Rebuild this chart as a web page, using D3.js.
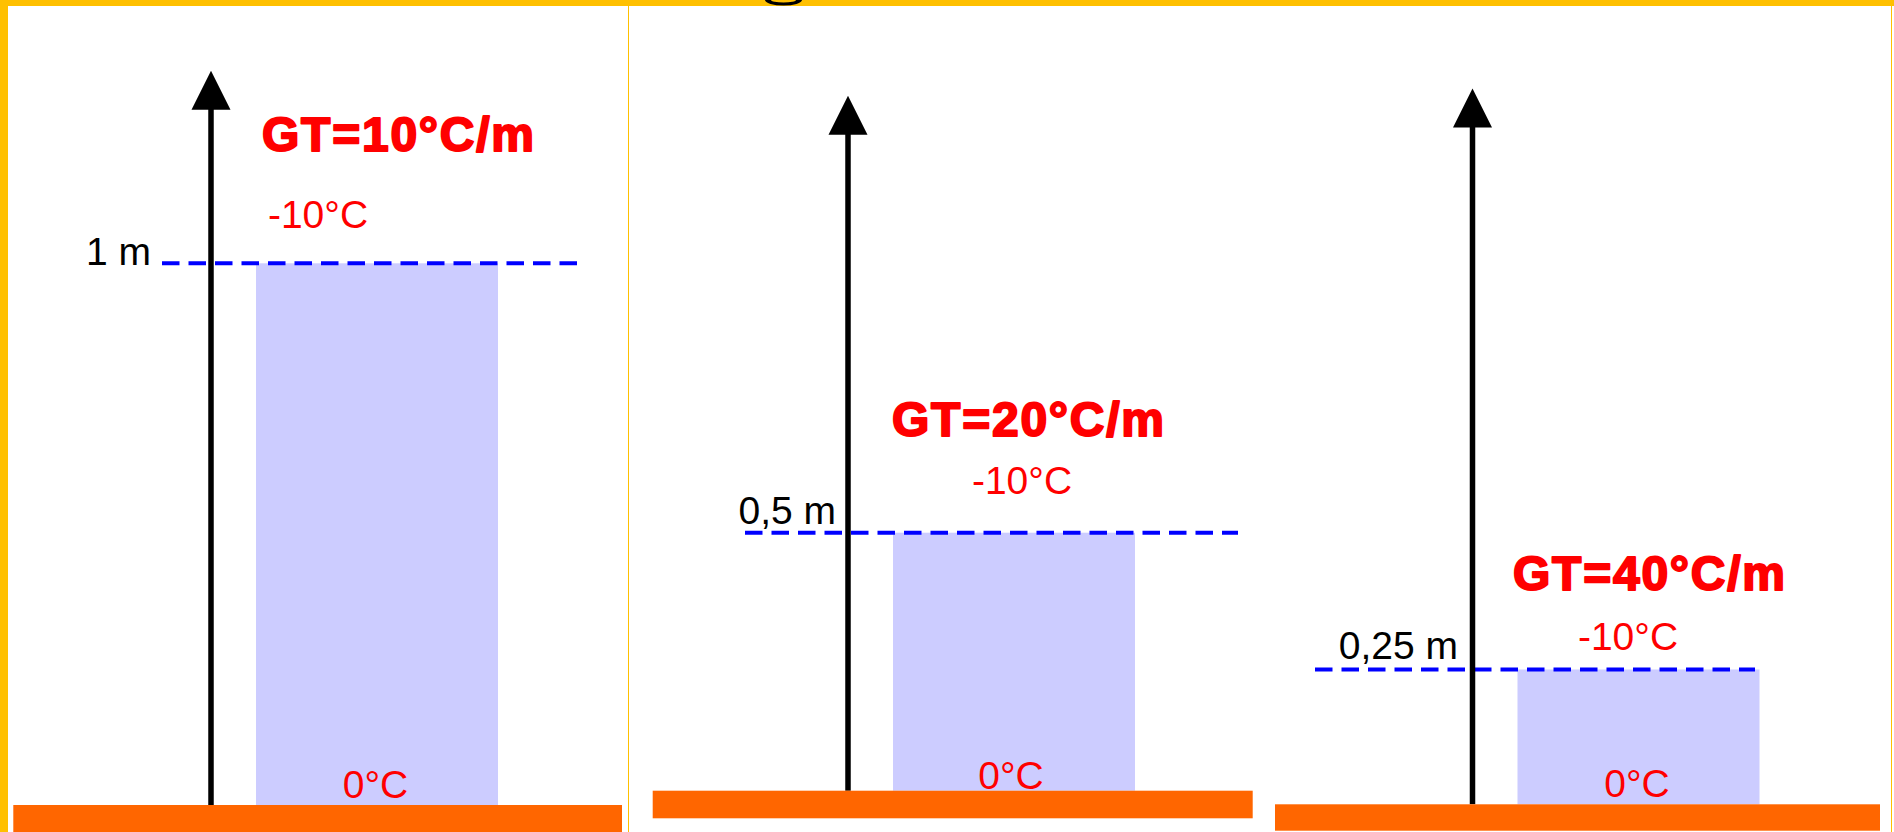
<!DOCTYPE html>
<html>
<head>
<meta charset="utf-8">
<script src="https://cdn.jsdelivr.net/npm/d3@7/dist/d3.min.js"></script>
<style>
  html, body { margin: 0; padding: 0; background: #ffffff; overflow: hidden; }
  svg { display: block; }
</style>
</head>
<body>
<svg id="chart" width="1894" height="832"></svg>
<script>
// ---- data ----
const gradients   = [10, 20, 40];                 // GT in °C/m
const depths      = [1, 0.5, 0.25];               // depth (m) where -10°C is reached
const depthLabels = ["1 m", "0,5 m", "0,25 m"];
const topTemps    = [-10, -10, -10];              // °C at the dashed line
const bottomTemps = [0, 0, 0];                    // °C at the ground

// ---- layout (positions only) ----
const layout = [
  { axisX: 211,    base: 805,   pxPerM: 541.7, tipY: 70.7, dash: [162, 577.5], ground: [13.3, 622, 28],
    gtX: 398,  gtDy: -112.6, topX: 318,  topDy: -35.6, botX: 375.5, botY: 798, lblX: 151,  lblDy: 1.7 },
  { axisX: 848,    base: 790.7, pxPerM: 516,   tipY: 95.7, dash: [745, 1238],  ground: [652.7, 1252.7, 27.6],
    gtX: 1028, gtDy: -96.7,  topX: 1022, topDy: -38.7, botX: 1011,  botY: 789, lblX: 836,  lblDy: -8.7 },
  { axisX: 1472.5, base: 804.3, pxPerM: 539.2, tipY: 88.5, dash: [1315, 1755], ground: [1275, 1880, 26.4],
    gtX: 1649, gtDy: -79.3,  topX: 1628, topDy: -19.3, botX: 1637,  botY: 797, lblX: 1458, lblDy: -10.3 }
];

const C = {
  yellow: "#FFC000", orange: "#FF6600", block: "#CCCCFF",
  dash: "#0000FF", red: "#FF0000", black: "#000000"
};
const FONT = "'Liberation Sans', Arial, sans-serif";

const svg = d3.select("#chart");

svg.append("rect").attr("width", 1894).attr("height", 832).attr("fill", "#fff");

const panels = gradients.map((g, i) => ({
  gt: g, depth: depths[i], label: depthLabels[i],
  top: topTemps[i], bottom: bottomTemps[i], L: layout[i]
}));

panels.forEach(p => {
  const L = p.L;
  const y = d3.scaleLinear().domain([0, 1]).range([L.base, L.base - L.pxPerM]);
  const x = d3.scaleLinear().domain([0, 1]).range([L.axisX, L.axisX + 1]);
  const g = svg.append("g");

  // frozen block (from ground up to depth)
  g.append("rect")
    .attr("x", x(45)).attr("width", 242)
    .attr("y", y(p.depth)).attr("height", y(0) - y(p.depth))
    .attr("fill", C.block);

  // dashed level line
  g.append("line")
    .attr("x1", L.dash[0]).attr("x2", L.dash[1])
    .attr("y1", y(p.depth)).attr("y2", y(p.depth))
    .attr("stroke", C.dash).attr("stroke-width", 4)
    .attr("stroke-dasharray", "17.5,9");

  // vertical axis with arrow
  const headH = 39, headW = 19.5;
  g.append("line")
    .attr("x1", x(0)).attr("x2", x(0))
    .attr("y1", y(0)).attr("y2", L.tipY + headH - 1)
    .attr("stroke", C.black).attr("stroke-width", 5.5);
  g.append("path")
    .attr("d", `M${x(0)},${L.tipY} L${x(0) + headW},${L.tipY + headH} L${x(0) - headW},${L.tipY + headH} Z`)
    .attr("fill", C.black);

  // ground
  g.append("rect")
    .attr("x", L.ground[0]).attr("width", L.ground[1] - L.ground[0])
    .attr("y", y(0)).attr("height", L.ground[2])
    .attr("fill", C.orange);

  // labels
  g.append("text")
    .attr("x", L.gtX).attr("y", y(p.depth) + L.gtDy)
    .attr("text-anchor", "middle")
    .attr("font-family", FONT).attr("font-weight", "bold").attr("font-size", 48)
    .attr("fill", C.red).attr("stroke", C.red).attr("stroke-width", 2)
    .attr("stroke-linejoin", "round")
    .attr("textLength", 272).attr("lengthAdjust", "spacing")
    .text(`GT=${p.gt}°C/m`);

  g.append("text")
    .attr("x", L.topX).attr("y", y(p.depth) + L.topDy)
    .attr("text-anchor", "middle")
    .attr("font-family", FONT).attr("font-size", 39)
    .attr("fill", C.red)
    .text(`${p.top}°C`);

  g.append("text")
    .attr("x", L.botX).attr("y", L.botY)
    .attr("text-anchor", "middle")
    .attr("font-family", FONT).attr("font-size", 39)
    .attr("fill", C.red)
    .text(`${p.bottom}°C`);

  g.append("text")
    .attr("x", L.lblX).attr("y", y(p.depth) + L.lblDy)
    .attr("text-anchor", "end")
    .attr("font-family", FONT).attr("font-size", 39)
    .attr("fill", C.black)
    .text(p.label);
});

// frame decorations
svg.append("rect").attr("x", 0).attr("y", 0).attr("width", 8).attr("height", 832).attr("fill", C.yellow);
svg.append("rect").attr("x", 0).attr("y", 0).attr("width", 1894).attr("height", 6).attr("fill", C.yellow);
svg.append("line").attr("x1", 628.5).attr("x2", 628.5).attr("y1", 6).attr("y2", 832)
  .attr("stroke", C.yellow).attr("stroke-width", 1);
svg.append("line").attr("x1", 1891.5).attr("x2", 1891.5).attr("y1", 6).attr("y2", 832)
  .attr("stroke", C.yellow).attr("stroke-width", 1);

// clipped fragment of a glyph from the cut-off heading above
svg.append("path")
  .attr("d", "M765,0 A18.5,5.5 0 0 0 802,0 Z M771,0 A12.5,2.5 0 0 0 796,0 Z")
  .attr("fill", C.black).attr("fill-rule", "evenodd");
</script>
</body>
</html>
